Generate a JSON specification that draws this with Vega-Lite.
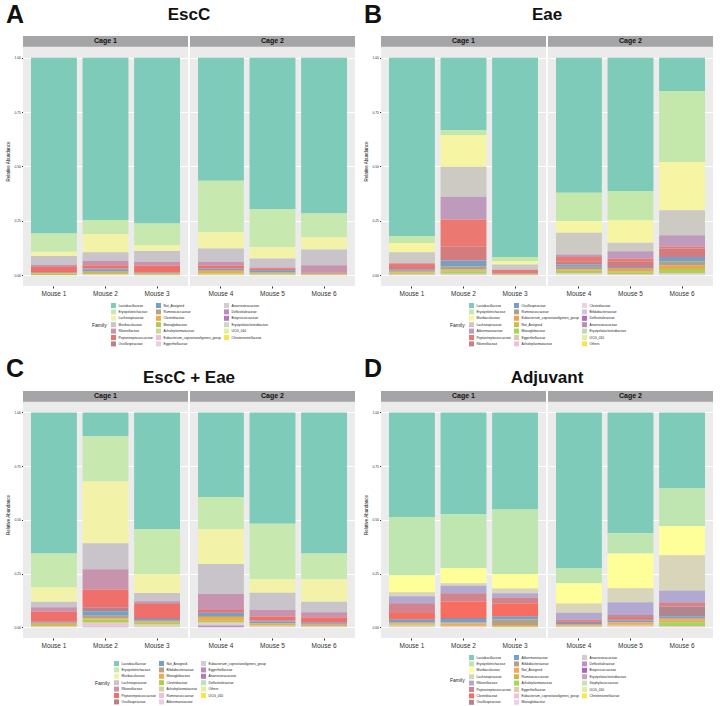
{
"$schema": "https://vega.github.io/schema/vega-lite/v6.json",
"background": "white",
"padding": {"left": 5, "top": 3, "right": 4, "bottom": 0},
"config": {
  "font": "Liberation Sans",
  "view": {"fill": "#EBEBEB", "stroke": null},
  "axis": {"domain": false, "gridColor": "#FFFFFF", "tickColor": "#333333", "labelColor": "#333333", "titleFontWeight": "normal", "titleColor": "#111111"},
  "title": {"font": "Liberation Sans", "color": "#111111"},
  "header": {"titleFont": "Liberation Sans"},
  "legend": {"labelFont": "Liberation Sans", "titleFont": "Liberation Sans", "layout": {"bottom": {"anchor": "middle"}}}
},
"datasets": {
"A": [
{"Mouse":"Mouse 1","Cage":"Cage 1","Family":"Lactobacillaceae","Abundance":0.808},
{"Mouse":"Mouse 1","Cage":"Cage 1","Family":"Erysipelotrichaceae","Abundance":0.085},
{"Mouse":"Mouse 1","Cage":"Cage 1","Family":"Lachnospiraceae","Abundance":0.019},
{"Mouse":"Mouse 1","Cage":"Cage 1","Family":"Muribaculaceae","Abundance":0.040},
{"Mouse":"Mouse 1","Cage":"Cage 1","Family":"Rikenellaceae","Abundance":0.011},
{"Mouse":"Mouse 1","Cage":"Cage 1","Family":"Peptostreptococcaceae","Abundance":0.025},
{"Mouse":"Mouse 1","Cage":"Cage 1","Family":"Oscillospiraceae","Abundance":0.002},
{"Mouse":"Mouse 1","Cage":"Cage 1","Family":"Not_Assigned","Abundance":0.001},
{"Mouse":"Mouse 1","Cage":"Cage 1","Family":"Ruminococcaceae","Abundance":0.001},
{"Mouse":"Mouse 1","Cage":"Cage 1","Family":"Clostridiaceae","Abundance":0.002},
{"Mouse":"Mouse 1","Cage":"Cage 1","Family":"Monoglobaceae","Abundance":0.006},
{"Mouse":"Mouse 2","Cage":"Cage 1","Family":"Lactobacillaceae","Abundance":0.746},
{"Mouse":"Mouse 2","Cage":"Cage 1","Family":"Erysipelotrichaceae","Abundance":0.065},
{"Mouse":"Mouse 2","Cage":"Cage 1","Family":"Lachnospiraceae","Abundance":0.084},
{"Mouse":"Mouse 2","Cage":"Cage 1","Family":"Muribaculaceae","Abundance":0.039},
{"Mouse":"Mouse 2","Cage":"Cage 1","Family":"Rikenellaceae","Abundance":0.020},
{"Mouse":"Mouse 2","Cage":"Cage 1","Family":"Peptostreptococcaceae","Abundance":0.015},
{"Mouse":"Mouse 2","Cage":"Cage 1","Family":"Oscillospiraceae","Abundance":0.004},
{"Mouse":"Mouse 2","Cage":"Cage 1","Family":"Not_Assigned","Abundance":0.010},
{"Mouse":"Mouse 2","Cage":"Cage 1","Family":"Ruminococcaceae","Abundance":0.003},
{"Mouse":"Mouse 2","Cage":"Cage 1","Family":"Clostridiaceae","Abundance":0.004},
{"Mouse":"Mouse 2","Cage":"Cage 1","Family":"Monoglobaceae","Abundance":0.005},
{"Mouse":"Mouse 2","Cage":"Cage 1","Family":"Acholeplasmataceae","Abundance":0.002},
{"Mouse":"Mouse 2","Cage":"Cage 1","Family":"Anaerovoracaceae","Abundance":0.003},
{"Mouse":"Mouse 3","Cage":"Cage 1","Family":"Lactobacillaceae","Abundance":0.763},
{"Mouse":"Mouse 3","Cage":"Cage 1","Family":"Erysipelotrichaceae","Abundance":0.099},
{"Mouse":"Mouse 3","Cage":"Cage 1","Family":"Lachnospiraceae","Abundance":0.027},
{"Mouse":"Mouse 3","Cage":"Cage 1","Family":"Muribaculaceae","Abundance":0.049},
{"Mouse":"Mouse 3","Cage":"Cage 1","Family":"Rikenellaceae","Abundance":0.019},
{"Mouse":"Mouse 3","Cage":"Cage 1","Family":"Peptostreptococcaceae","Abundance":0.031},
{"Mouse":"Mouse 3","Cage":"Cage 1","Family":"Oscillospiraceae","Abundance":0.002},
{"Mouse":"Mouse 3","Cage":"Cage 1","Family":"Not_Assigned","Abundance":0.002},
{"Mouse":"Mouse 3","Cage":"Cage 1","Family":"Ruminococcaceae","Abundance":0.002},
{"Mouse":"Mouse 3","Cage":"Cage 1","Family":"Clostridiaceae","Abundance":0.002},
{"Mouse":"Mouse 3","Cage":"Cage 1","Family":"Monoglobaceae","Abundance":0.004},
{"Mouse":"Mouse 4","Cage":"Cage 2","Family":"Lactobacillaceae","Abundance":0.566},
{"Mouse":"Mouse 4","Cage":"Cage 2","Family":"Erysipelotrichaceae","Abundance":0.237},
{"Mouse":"Mouse 4","Cage":"Cage 2","Family":"Lachnospiraceae","Abundance":0.074},
{"Mouse":"Mouse 4","Cage":"Cage 2","Family":"Muribaculaceae","Abundance":0.061},
{"Mouse":"Mouse 4","Cage":"Cage 2","Family":"Rikenellaceae","Abundance":0.019},
{"Mouse":"Mouse 4","Cage":"Cage 2","Family":"Peptostreptococcaceae","Abundance":0.012},
{"Mouse":"Mouse 4","Cage":"Cage 2","Family":"Oscillospiraceae","Abundance":0.002},
{"Mouse":"Mouse 4","Cage":"Cage 2","Family":"Not_Assigned","Abundance":0.006},
{"Mouse":"Mouse 4","Cage":"Cage 2","Family":"Ruminococcaceae","Abundance":0.004},
{"Mouse":"Mouse 4","Cage":"Cage 2","Family":"Clostridiaceae","Abundance":0.012},
{"Mouse":"Mouse 4","Cage":"Cage 2","Family":"Monoglobaceae","Abundance":0.004},
{"Mouse":"Mouse 4","Cage":"Cage 2","Family":"Acholeplasmataceae","Abundance":0.003},
{"Mouse":"Mouse 5","Cage":"Cage 2","Family":"Lactobacillaceae","Abundance":0.697},
{"Mouse":"Mouse 5","Cage":"Cage 2","Family":"Erysipelotrichaceae","Abundance":0.175},
{"Mouse":"Mouse 5","Cage":"Cage 2","Family":"Lachnospiraceae","Abundance":0.051},
{"Mouse":"Mouse 5","Cage":"Cage 2","Family":"Muribaculaceae","Abundance":0.042},
{"Mouse":"Mouse 5","Cage":"Cage 2","Family":"Rikenellaceae","Abundance":0.003},
{"Mouse":"Mouse 5","Cage":"Cage 2","Family":"Peptostreptococcaceae","Abundance":0.009},
{"Mouse":"Mouse 5","Cage":"Cage 2","Family":"Not_Assigned","Abundance":0.011},
{"Mouse":"Mouse 5","Cage":"Cage 2","Family":"Ruminococcaceae","Abundance":0.003},
{"Mouse":"Mouse 5","Cage":"Cage 2","Family":"Clostridiaceae","Abundance":0.004},
{"Mouse":"Mouse 5","Cage":"Cage 2","Family":"Monoglobaceae","Abundance":0.003},
{"Mouse":"Mouse 5","Cage":"Cage 2","Family":"Acholeplasmataceae","Abundance":0.002},
{"Mouse":"Mouse 6","Cage":"Cage 2","Family":"Lactobacillaceae","Abundance":0.717},
{"Mouse":"Mouse 6","Cage":"Cage 2","Family":"Erysipelotrichaceae","Abundance":0.109},
{"Mouse":"Mouse 6","Cage":"Cage 2","Family":"Lachnospiraceae","Abundance":0.056},
{"Mouse":"Mouse 6","Cage":"Cage 2","Family":"Muribaculaceae","Abundance":0.072},
{"Mouse":"Mouse 6","Cage":"Cage 2","Family":"Rikenellaceae","Abundance":0.034},
{"Mouse":"Mouse 6","Cage":"Cage 2","Family":"Peptostreptococcaceae","Abundance":0.002},
{"Mouse":"Mouse 6","Cage":"Cage 2","Family":"Oscillospiraceae","Abundance":0.002},
{"Mouse":"Mouse 6","Cage":"Cage 2","Family":"Not_Assigned","Abundance":0.002},
{"Mouse":"Mouse 6","Cage":"Cage 2","Family":"Ruminococcaceae","Abundance":0.002},
{"Mouse":"Mouse 6","Cage":"Cage 2","Family":"Clostridiaceae","Abundance":0.002},
{"Mouse":"Mouse 6","Cage":"Cage 2","Family":"Monoglobaceae","Abundance":0.002}
],
"B": [
{"Mouse":"Mouse 1","Cage":"Cage 1","Family":"Lactobacillaceae","Abundance":0.821},
{"Mouse":"Mouse 1","Cage":"Cage 1","Family":"Erysipelotrichaceae","Abundance":0.031},
{"Mouse":"Mouse 1","Cage":"Cage 1","Family":"Muribaculaceae","Abundance":0.043},
{"Mouse":"Mouse 1","Cage":"Cage 1","Family":"Lachnospiraceae","Abundance":0.049},
{"Mouse":"Mouse 1","Cage":"Cage 1","Family":"Akkermansiaceae","Abundance":0.004},
{"Mouse":"Mouse 1","Cage":"Cage 1","Family":"Peptostreptococcaceae","Abundance":0.015},
{"Mouse":"Mouse 1","Cage":"Cage 1","Family":"Rikenellaceae","Abundance":0.012},
{"Mouse":"Mouse 1","Cage":"Cage 1","Family":"Oscillospiraceae","Abundance":0.005},
{"Mouse":"Mouse 1","Cage":"Cage 1","Family":"Ruminococcaceae","Abundance":0.004},
{"Mouse":"Mouse 1","Cage":"Cage 1","Family":"Eubacterium_coprostanoligenes_group","Abundance":0.004},
{"Mouse":"Mouse 1","Cage":"Cage 1","Family":"Not_Assigned","Abundance":0.006},
{"Mouse":"Mouse 1","Cage":"Cage 1","Family":"Monoglobaceae","Abundance":0.003},
{"Mouse":"Mouse 1","Cage":"Cage 1","Family":"Eggerthellaceae","Abundance":0.002},
{"Mouse":"Mouse 1","Cage":"Cage 1","Family":"Acholeplasmataceae","Abundance":0.001},
{"Mouse":"Mouse 2","Cage":"Cage 1","Family":"Lactobacillaceae","Abundance":0.333},
{"Mouse":"Mouse 2","Cage":"Cage 1","Family":"Erysipelotrichaceae","Abundance":0.024},
{"Mouse":"Mouse 2","Cage":"Cage 1","Family":"Muribaculaceae","Abundance":0.145},
{"Mouse":"Mouse 2","Cage":"Cage 1","Family":"Lachnospiraceae","Abundance":0.138},
{"Mouse":"Mouse 2","Cage":"Cage 1","Family":"Akkermansiaceae","Abundance":0.104},
{"Mouse":"Mouse 2","Cage":"Cage 1","Family":"Peptostreptococcaceae","Abundance":0.126},
{"Mouse":"Mouse 2","Cage":"Cage 1","Family":"Rikenellaceae","Abundance":0.063},
{"Mouse":"Mouse 2","Cage":"Cage 1","Family":"Oscillospiraceae","Abundance":0.026},
{"Mouse":"Mouse 2","Cage":"Cage 1","Family":"Ruminococcaceae","Abundance":0.015},
{"Mouse":"Mouse 2","Cage":"Cage 1","Family":"Eubacterium_coprostanoligenes_group","Abundance":0.003},
{"Mouse":"Mouse 2","Cage":"Cage 1","Family":"Not_Assigned","Abundance":0.008},
{"Mouse":"Mouse 2","Cage":"Cage 1","Family":"Monoglobaceae","Abundance":0.009},
{"Mouse":"Mouse 2","Cage":"Cage 1","Family":"Eggerthellaceae","Abundance":0.002},
{"Mouse":"Mouse 2","Cage":"Cage 1","Family":"Acholeplasmataceae","Abundance":0.004},
{"Mouse":"Mouse 3","Cage":"Cage 1","Family":"Lactobacillaceae","Abundance":0.917},
{"Mouse":"Mouse 3","Cage":"Cage 1","Family":"Erysipelotrichaceae","Abundance":0.019},
{"Mouse":"Mouse 3","Cage":"Cage 1","Family":"Muribaculaceae","Abundance":0.015},
{"Mouse":"Mouse 3","Cage":"Cage 1","Family":"Lachnospiraceae","Abundance":0.023},
{"Mouse":"Mouse 3","Cage":"Cage 1","Family":"Akkermansiaceae","Abundance":0.002},
{"Mouse":"Mouse 3","Cage":"Cage 1","Family":"Peptostreptococcaceae","Abundance":0.015},
{"Mouse":"Mouse 3","Cage":"Cage 1","Family":"Rikenellaceae","Abundance":0.003},
{"Mouse":"Mouse 3","Cage":"Cage 1","Family":"Oscillospiraceae","Abundance":0.002},
{"Mouse":"Mouse 3","Cage":"Cage 1","Family":"Ruminococcaceae","Abundance":0.001},
{"Mouse":"Mouse 3","Cage":"Cage 1","Family":"Eubacterium_coprostanoligenes_group","Abundance":0.001},
{"Mouse":"Mouse 3","Cage":"Cage 1","Family":"Not_Assigned","Abundance":0.001},
{"Mouse":"Mouse 3","Cage":"Cage 1","Family":"Monoglobaceae","Abundance":0.001},
{"Mouse":"Mouse 4","Cage":"Cage 2","Family":"Lactobacillaceae","Abundance":0.621},
{"Mouse":"Mouse 4","Cage":"Cage 2","Family":"Erysipelotrichaceae","Abundance":0.131},
{"Mouse":"Mouse 4","Cage":"Cage 2","Family":"Muribaculaceae","Abundance":0.053},
{"Mouse":"Mouse 4","Cage":"Cage 2","Family":"Lachnospiraceae","Abundance":0.100},
{"Mouse":"Mouse 4","Cage":"Cage 2","Family":"Akkermansiaceae","Abundance":0.012},
{"Mouse":"Mouse 4","Cage":"Cage 2","Family":"Peptostreptococcaceae","Abundance":0.019},
{"Mouse":"Mouse 4","Cage":"Cage 2","Family":"Rikenellaceae","Abundance":0.015},
{"Mouse":"Mouse 4","Cage":"Cage 2","Family":"Oscillospiraceae","Abundance":0.011},
{"Mouse":"Mouse 4","Cage":"Cage 2","Family":"Ruminococcaceae","Abundance":0.012},
{"Mouse":"Mouse 4","Cage":"Cage 2","Family":"Eubacterium_coprostanoligenes_group","Abundance":0.004},
{"Mouse":"Mouse 4","Cage":"Cage 2","Family":"Not_Assigned","Abundance":0.008},
{"Mouse":"Mouse 4","Cage":"Cage 2","Family":"Monoglobaceae","Abundance":0.005},
{"Mouse":"Mouse 4","Cage":"Cage 2","Family":"Eggerthellaceae","Abundance":0.003},
{"Mouse":"Mouse 4","Cage":"Cage 2","Family":"Acholeplasmataceae","Abundance":0.002},
{"Mouse":"Mouse 4","Cage":"Cage 2","Family":"Clostridiaceae","Abundance":0.004},
{"Mouse":"Mouse 5","Cage":"Cage 2","Family":"Lactobacillaceae","Abundance":0.613},
{"Mouse":"Mouse 5","Cage":"Cage 2","Family":"Erysipelotrichaceae","Abundance":0.135},
{"Mouse":"Mouse 5","Cage":"Cage 2","Family":"Muribaculaceae","Abundance":0.103},
{"Mouse":"Mouse 5","Cage":"Cage 2","Family":"Lachnospiraceae","Abundance":0.039},
{"Mouse":"Mouse 5","Cage":"Cage 2","Family":"Akkermansiaceae","Abundance":0.035},
{"Mouse":"Mouse 5","Cage":"Cage 2","Family":"Peptostreptococcaceae","Abundance":0.011},
{"Mouse":"Mouse 5","Cage":"Cage 2","Family":"Rikenellaceae","Abundance":0.027},
{"Mouse":"Mouse 5","Cage":"Cage 2","Family":"Oscillospiraceae","Abundance":0.005},
{"Mouse":"Mouse 5","Cage":"Cage 2","Family":"Ruminococcaceae","Abundance":0.004},
{"Mouse":"Mouse 5","Cage":"Cage 2","Family":"Eubacterium_coprostanoligenes_group","Abundance":0.010},
{"Mouse":"Mouse 5","Cage":"Cage 2","Family":"Not_Assigned","Abundance":0.007},
{"Mouse":"Mouse 5","Cage":"Cage 2","Family":"Monoglobaceae","Abundance":0.006},
{"Mouse":"Mouse 5","Cage":"Cage 2","Family":"Eggerthellaceae","Abundance":0.003},
{"Mouse":"Mouse 5","Cage":"Cage 2","Family":"Acholeplasmataceae","Abundance":0.002},
{"Mouse":"Mouse 6","Cage":"Cage 2","Family":"Lactobacillaceae","Abundance":0.153},
{"Mouse":"Mouse 6","Cage":"Cage 2","Family":"Erysipelotrichaceae","Abundance":0.327},
{"Mouse":"Mouse 6","Cage":"Cage 2","Family":"Muribaculaceae","Abundance":0.222},
{"Mouse":"Mouse 6","Cage":"Cage 2","Family":"Lachnospiraceae","Abundance":0.115},
{"Mouse":"Mouse 6","Cage":"Cage 2","Family":"Akkermansiaceae","Abundance":0.053},
{"Mouse":"Mouse 6","Cage":"Cage 2","Family":"Peptostreptococcaceae","Abundance":0.008},
{"Mouse":"Mouse 6","Cage":"Cage 2","Family":"Rikenellaceae","Abundance":0.039},
{"Mouse":"Mouse 6","Cage":"Cage 2","Family":"Oscillospiraceae","Abundance":0.019},
{"Mouse":"Mouse 6","Cage":"Cage 2","Family":"Ruminococcaceae","Abundance":0.020},
{"Mouse":"Mouse 6","Cage":"Cage 2","Family":"Eubacterium_coprostanoligenes_group","Abundance":0.011},
{"Mouse":"Mouse 6","Cage":"Cage 2","Family":"Not_Assigned","Abundance":0.009},
{"Mouse":"Mouse 6","Cage":"Cage 2","Family":"Monoglobaceae","Abundance":0.014},
{"Mouse":"Mouse 6","Cage":"Cage 2","Family":"Eggerthellaceae","Abundance":0.004},
{"Mouse":"Mouse 6","Cage":"Cage 2","Family":"Acholeplasmataceae","Abundance":0.004},
{"Mouse":"Mouse 6","Cage":"Cage 2","Family":"Clostridiaceae","Abundance":0.002}
],
"C": [
{"Mouse":"Mouse 1","Cage":"Cage 1","Family":"Lactobacillaceae","Abundance":0.657},
{"Mouse":"Mouse 1","Cage":"Cage 1","Family":"Erysipelotrichaceae","Abundance":0.158},
{"Mouse":"Mouse 1","Cage":"Cage 1","Family":"Muribaculaceae","Abundance":0.066},
{"Mouse":"Mouse 1","Cage":"Cage 1","Family":"Lachnospiraceae","Abundance":0.026},
{"Mouse":"Mouse 1","Cage":"Cage 1","Family":"Rikenellaceae","Abundance":0.020},
{"Mouse":"Mouse 1","Cage":"Cage 1","Family":"Peptostreptococcaceae","Abundance":0.047},
{"Mouse":"Mouse 1","Cage":"Cage 1","Family":"Oscillospiraceae","Abundance":0.004},
{"Mouse":"Mouse 1","Cage":"Cage 1","Family":"Not_Assigned","Abundance":0.002},
{"Mouse":"Mouse 1","Cage":"Cage 1","Family":"Bifidobacteriaceae","Abundance":0.004},
{"Mouse":"Mouse 1","Cage":"Cage 1","Family":"Monoglobaceae","Abundance":0.006},
{"Mouse":"Mouse 1","Cage":"Cage 1","Family":"Clostridiaceae","Abundance":0.004},
{"Mouse":"Mouse 1","Cage":"Cage 1","Family":"Acholeplasmataceae","Abundance":0.004},
{"Mouse":"Mouse 1","Cage":"Cage 1","Family":"Ruminococcaceae","Abundance":0.002},
{"Mouse":"Mouse 2","Cage":"Cage 1","Family":"Lactobacillaceae","Abundance":0.111},
{"Mouse":"Mouse 2","Cage":"Cage 1","Family":"Erysipelotrichaceae","Abundance":0.210},
{"Mouse":"Mouse 2","Cage":"Cage 1","Family":"Muribaculaceae","Abundance":0.288},
{"Mouse":"Mouse 2","Cage":"Cage 1","Family":"Lachnospiraceae","Abundance":0.121},
{"Mouse":"Mouse 2","Cage":"Cage 1","Family":"Rikenellaceae","Abundance":0.094},
{"Mouse":"Mouse 2","Cage":"Cage 1","Family":"Peptostreptococcaceae","Abundance":0.083},
{"Mouse":"Mouse 2","Cage":"Cage 1","Family":"Oscillospiraceae","Abundance":0.019},
{"Mouse":"Mouse 2","Cage":"Cage 1","Family":"Not_Assigned","Abundance":0.020},
{"Mouse":"Mouse 2","Cage":"Cage 1","Family":"Bifidobacteriaceae","Abundance":0.012},
{"Mouse":"Mouse 2","Cage":"Cage 1","Family":"Monoglobaceae","Abundance":0.006},
{"Mouse":"Mouse 2","Cage":"Cage 1","Family":"Clostridiaceae","Abundance":0.012},
{"Mouse":"Mouse 2","Cage":"Cage 1","Family":"Acholeplasmataceae","Abundance":0.005},
{"Mouse":"Mouse 2","Cage":"Cage 1","Family":"Ruminococcaceae","Abundance":0.010},
{"Mouse":"Mouse 2","Cage":"Cage 1","Family":"Akkermansiaceae","Abundance":0.004},
{"Mouse":"Mouse 2","Cage":"Cage 1","Family":"Eubacterium_coprostanoligenes_group","Abundance":0.003},
{"Mouse":"Mouse 2","Cage":"Cage 1","Family":"Eggerthellaceae","Abundance":0.002},
{"Mouse":"Mouse 3","Cage":"Cage 1","Family":"Lactobacillaceae","Abundance":0.544},
{"Mouse":"Mouse 3","Cage":"Cage 1","Family":"Erysipelotrichaceae","Abundance":0.209},
{"Mouse":"Mouse 3","Cage":"Cage 1","Family":"Muribaculaceae","Abundance":0.088},
{"Mouse":"Mouse 3","Cage":"Cage 1","Family":"Lachnospiraceae","Abundance":0.038},
{"Mouse":"Mouse 3","Cage":"Cage 1","Family":"Rikenellaceae","Abundance":0.013},
{"Mouse":"Mouse 3","Cage":"Cage 1","Family":"Peptostreptococcaceae","Abundance":0.065},
{"Mouse":"Mouse 3","Cage":"Cage 1","Family":"Oscillospiraceae","Abundance":0.005},
{"Mouse":"Mouse 3","Cage":"Cage 1","Family":"Not_Assigned","Abundance":0.008},
{"Mouse":"Mouse 3","Cage":"Cage 1","Family":"Bifidobacteriaceae","Abundance":0.004},
{"Mouse":"Mouse 3","Cage":"Cage 1","Family":"Monoglobaceae","Abundance":0.005},
{"Mouse":"Mouse 3","Cage":"Cage 1","Family":"Clostridiaceae","Abundance":0.008},
{"Mouse":"Mouse 3","Cage":"Cage 1","Family":"Acholeplasmataceae","Abundance":0.006},
{"Mouse":"Mouse 3","Cage":"Cage 1","Family":"Ruminococcaceae","Abundance":0.003},
{"Mouse":"Mouse 3","Cage":"Cage 1","Family":"Eubacterium_coprostanoligenes_group","Abundance":0.004},
{"Mouse":"Mouse 4","Cage":"Cage 2","Family":"Lactobacillaceae","Abundance":0.394},
{"Mouse":"Mouse 4","Cage":"Cage 2","Family":"Erysipelotrichaceae","Abundance":0.150},
{"Mouse":"Mouse 4","Cage":"Cage 2","Family":"Muribaculaceae","Abundance":0.162},
{"Mouse":"Mouse 4","Cage":"Cage 2","Family":"Lachnospiraceae","Abundance":0.139},
{"Mouse":"Mouse 4","Cage":"Cage 2","Family":"Rikenellaceae","Abundance":0.075},
{"Mouse":"Mouse 4","Cage":"Cage 2","Family":"Peptostreptococcaceae","Abundance":0.010},
{"Mouse":"Mouse 4","Cage":"Cage 2","Family":"Oscillospiraceae","Abundance":0.004},
{"Mouse":"Mouse 4","Cage":"Cage 2","Family":"Not_Assigned","Abundance":0.014},
{"Mouse":"Mouse 4","Cage":"Cage 2","Family":"Bifidobacteriaceae","Abundance":0.004},
{"Mouse":"Mouse 4","Cage":"Cage 2","Family":"Monoglobaceae","Abundance":0.018},
{"Mouse":"Mouse 4","Cage":"Cage 2","Family":"Clostridiaceae","Abundance":0.006},
{"Mouse":"Mouse 4","Cage":"Cage 2","Family":"Acholeplasmataceae","Abundance":0.006},
{"Mouse":"Mouse 4","Cage":"Cage 2","Family":"Ruminococcaceae","Abundance":0.004},
{"Mouse":"Mouse 4","Cage":"Cage 2","Family":"Eubacterium_coprostanoligenes_group","Abundance":0.006},
{"Mouse":"Mouse 4","Cage":"Cage 2","Family":"Eggerthellaceae","Abundance":0.003},
{"Mouse":"Mouse 4","Cage":"Cage 2","Family":"Anaerovoracaceae","Abundance":0.005},
{"Mouse":"Mouse 5","Cage":"Cage 2","Family":"Lactobacillaceae","Abundance":0.518},
{"Mouse":"Mouse 5","Cage":"Cage 2","Family":"Erysipelotrichaceae","Abundance":0.258},
{"Mouse":"Mouse 5","Cage":"Cage 2","Family":"Muribaculaceae","Abundance":0.063},
{"Mouse":"Mouse 5","Cage":"Cage 2","Family":"Lachnospiraceae","Abundance":0.081},
{"Mouse":"Mouse 5","Cage":"Cage 2","Family":"Rikenellaceae","Abundance":0.031},
{"Mouse":"Mouse 5","Cage":"Cage 2","Family":"Peptostreptococcaceae","Abundance":0.018},
{"Mouse":"Mouse 5","Cage":"Cage 2","Family":"Oscillospiraceae","Abundance":0.004},
{"Mouse":"Mouse 5","Cage":"Cage 2","Family":"Not_Assigned","Abundance":0.008},
{"Mouse":"Mouse 5","Cage":"Cage 2","Family":"Bifidobacteriaceae","Abundance":0.003},
{"Mouse":"Mouse 5","Cage":"Cage 2","Family":"Monoglobaceae","Abundance":0.006},
{"Mouse":"Mouse 5","Cage":"Cage 2","Family":"Clostridiaceae","Abundance":0.003},
{"Mouse":"Mouse 5","Cage":"Cage 2","Family":"Acholeplasmataceae","Abundance":0.003},
{"Mouse":"Mouse 5","Cage":"Cage 2","Family":"Ruminococcaceae","Abundance":0.004},
{"Mouse":"Mouse 6","Cage":"Cage 2","Family":"Lactobacillaceae","Abundance":0.657},
{"Mouse":"Mouse 6","Cage":"Cage 2","Family":"Erysipelotrichaceae","Abundance":0.119},
{"Mouse":"Mouse 6","Cage":"Cage 2","Family":"Muribaculaceae","Abundance":0.105},
{"Mouse":"Mouse 6","Cage":"Cage 2","Family":"Lachnospiraceae","Abundance":0.049},
{"Mouse":"Mouse 6","Cage":"Cage 2","Family":"Rikenellaceae","Abundance":0.024},
{"Mouse":"Mouse 6","Cage":"Cage 2","Family":"Peptostreptococcaceae","Abundance":0.023},
{"Mouse":"Mouse 6","Cage":"Cage 2","Family":"Oscillospiraceae","Abundance":0.004},
{"Mouse":"Mouse 6","Cage":"Cage 2","Family":"Not_Assigned","Abundance":0.006},
{"Mouse":"Mouse 6","Cage":"Cage 2","Family":"Bifidobacteriaceae","Abundance":0.003},
{"Mouse":"Mouse 6","Cage":"Cage 2","Family":"Monoglobaceae","Abundance":0.004},
{"Mouse":"Mouse 6","Cage":"Cage 2","Family":"Clostridiaceae","Abundance":0.002},
{"Mouse":"Mouse 6","Cage":"Cage 2","Family":"Acholeplasmataceae","Abundance":0.002},
{"Mouse":"Mouse 6","Cage":"Cage 2","Family":"Ruminococcaceae","Abundance":0.002}
],
"D": [
{"Mouse":"Mouse 1","Cage":"Cage 1","Family":"Lactobacillaceae","Abundance":0.487},
{"Mouse":"Mouse 1","Cage":"Cage 1","Family":"Erysipelotrichaceae","Abundance":0.271},
{"Mouse":"Mouse 1","Cage":"Cage 1","Family":"Muribaculaceae","Abundance":0.079},
{"Mouse":"Mouse 1","Cage":"Cage 1","Family":"Lachnospiraceae","Abundance":0.019},
{"Mouse":"Mouse 1","Cage":"Cage 1","Family":"Rikenellaceae","Abundance":0.032},
{"Mouse":"Mouse 1","Cage":"Cage 1","Family":"Peptostreptococcaceae","Abundance":0.046},
{"Mouse":"Mouse 1","Cage":"Cage 1","Family":"Clostridiaceae","Abundance":0.027},
{"Mouse":"Mouse 1","Cage":"Cage 1","Family":"Oscillospiraceae","Abundance":0.004},
{"Mouse":"Mouse 1","Cage":"Cage 1","Family":"Akkermansiaceae","Abundance":0.012},
{"Mouse":"Mouse 1","Cage":"Cage 1","Family":"Bifidobacteriaceae","Abundance":0.004},
{"Mouse":"Mouse 1","Cage":"Cage 1","Family":"Not_Assigned","Abundance":0.006},
{"Mouse":"Mouse 1","Cage":"Cage 1","Family":"Ruminococcaceae","Abundance":0.004},
{"Mouse":"Mouse 1","Cage":"Cage 1","Family":"Acholeplasmataceae","Abundance":0.002},
{"Mouse":"Mouse 1","Cage":"Cage 1","Family":"Eggerthellaceae","Abundance":0.003},
{"Mouse":"Mouse 1","Cage":"Cage 1","Family":"Eubacterium_coprostanoligenes_group","Abundance":0.002},
{"Mouse":"Mouse 1","Cage":"Cage 1","Family":"Anaerovoracaceae","Abundance":0.002},
{"Mouse":"Mouse 2","Cage":"Cage 1","Family":"Lactobacillaceae","Abundance":0.474},
{"Mouse":"Mouse 2","Cage":"Cage 1","Family":"Erysipelotrichaceae","Abundance":0.250},
{"Mouse":"Mouse 2","Cage":"Cage 1","Family":"Muribaculaceae","Abundance":0.071},
{"Mouse":"Mouse 2","Cage":"Cage 1","Family":"Lachnospiraceae","Abundance":0.012},
{"Mouse":"Mouse 2","Cage":"Cage 1","Family":"Rikenellaceae","Abundance":0.035},
{"Mouse":"Mouse 2","Cage":"Cage 1","Family":"Peptostreptococcaceae","Abundance":0.038},
{"Mouse":"Mouse 2","Cage":"Cage 1","Family":"Clostridiaceae","Abundance":0.077},
{"Mouse":"Mouse 2","Cage":"Cage 1","Family":"Oscillospiraceae","Abundance":0.004},
{"Mouse":"Mouse 2","Cage":"Cage 1","Family":"Akkermansiaceae","Abundance":0.017},
{"Mouse":"Mouse 2","Cage":"Cage 1","Family":"Bifidobacteriaceae","Abundance":0.004},
{"Mouse":"Mouse 2","Cage":"Cage 1","Family":"Not_Assigned","Abundance":0.008},
{"Mouse":"Mouse 2","Cage":"Cage 1","Family":"Ruminococcaceae","Abundance":0.003},
{"Mouse":"Mouse 2","Cage":"Cage 1","Family":"Acholeplasmataceae","Abundance":0.002},
{"Mouse":"Mouse 2","Cage":"Cage 1","Family":"Eggerthellaceae","Abundance":0.002},
{"Mouse":"Mouse 2","Cage":"Cage 1","Family":"Eubacterium_coprostanoligenes_group","Abundance":0.003},
{"Mouse":"Mouse 3","Cage":"Cage 1","Family":"Lactobacillaceae","Abundance":0.452},
{"Mouse":"Mouse 3","Cage":"Cage 1","Family":"Erysipelotrichaceae","Abundance":0.300},
{"Mouse":"Mouse 3","Cage":"Cage 1","Family":"Muribaculaceae","Abundance":0.068},
{"Mouse":"Mouse 3","Cage":"Cage 1","Family":"Lachnospiraceae","Abundance":0.022},
{"Mouse":"Mouse 3","Cage":"Cage 1","Family":"Rikenellaceae","Abundance":0.019},
{"Mouse":"Mouse 3","Cage":"Cage 1","Family":"Peptostreptococcaceae","Abundance":0.028},
{"Mouse":"Mouse 3","Cage":"Cage 1","Family":"Clostridiaceae","Abundance":0.059},
{"Mouse":"Mouse 3","Cage":"Cage 1","Family":"Oscillospiraceae","Abundance":0.003},
{"Mouse":"Mouse 3","Cage":"Cage 1","Family":"Akkermansiaceae","Abundance":0.013},
{"Mouse":"Mouse 3","Cage":"Cage 1","Family":"Bifidobacteriaceae","Abundance":0.025},
{"Mouse":"Mouse 3","Cage":"Cage 1","Family":"Not_Assigned","Abundance":0.005},
{"Mouse":"Mouse 3","Cage":"Cage 1","Family":"Ruminococcaceae","Abundance":0.004},
{"Mouse":"Mouse 3","Cage":"Cage 1","Family":"Acholeplasmataceae","Abundance":0.002},
{"Mouse":"Mouse 4","Cage":"Cage 2","Family":"Lactobacillaceae","Abundance":0.724},
{"Mouse":"Mouse 4","Cage":"Cage 2","Family":"Erysipelotrichaceae","Abundance":0.071},
{"Mouse":"Mouse 4","Cage":"Cage 2","Family":"Muribaculaceae","Abundance":0.094},
{"Mouse":"Mouse 4","Cage":"Cage 2","Family":"Lachnospiraceae","Abundance":0.043},
{"Mouse":"Mouse 4","Cage":"Cage 2","Family":"Rikenellaceae","Abundance":0.032},
{"Mouse":"Mouse 4","Cage":"Cage 2","Family":"Peptostreptococcaceae","Abundance":0.008},
{"Mouse":"Mouse 4","Cage":"Cage 2","Family":"Clostridiaceae","Abundance":0.004},
{"Mouse":"Mouse 4","Cage":"Cage 2","Family":"Oscillospiraceae","Abundance":0.004},
{"Mouse":"Mouse 4","Cage":"Cage 2","Family":"Akkermansiaceae","Abundance":0.006},
{"Mouse":"Mouse 4","Cage":"Cage 2","Family":"Bifidobacteriaceae","Abundance":0.003},
{"Mouse":"Mouse 4","Cage":"Cage 2","Family":"Not_Assigned","Abundance":0.004},
{"Mouse":"Mouse 4","Cage":"Cage 2","Family":"Ruminococcaceae","Abundance":0.003},
{"Mouse":"Mouse 4","Cage":"Cage 2","Family":"Acholeplasmataceae","Abundance":0.002},
{"Mouse":"Mouse 4","Cage":"Cage 2","Family":"Eggerthellaceae","Abundance":0.002},
{"Mouse":"Mouse 5","Cage":"Cage 2","Family":"Lactobacillaceae","Abundance":0.562},
{"Mouse":"Mouse 5","Cage":"Cage 2","Family":"Erysipelotrichaceae","Abundance":0.095},
{"Mouse":"Mouse 5","Cage":"Cage 2","Family":"Muribaculaceae","Abundance":0.161},
{"Mouse":"Mouse 5","Cage":"Cage 2","Family":"Lachnospiraceae","Abundance":0.065},
{"Mouse":"Mouse 5","Cage":"Cage 2","Family":"Rikenellaceae","Abundance":0.060},
{"Mouse":"Mouse 5","Cage":"Cage 2","Family":"Peptostreptococcaceae","Abundance":0.014},
{"Mouse":"Mouse 5","Cage":"Cage 2","Family":"Clostridiaceae","Abundance":0.006},
{"Mouse":"Mouse 5","Cage":"Cage 2","Family":"Oscillospiraceae","Abundance":0.005},
{"Mouse":"Mouse 5","Cage":"Cage 2","Family":"Akkermansiaceae","Abundance":0.008},
{"Mouse":"Mouse 5","Cage":"Cage 2","Family":"Bifidobacteriaceae","Abundance":0.002},
{"Mouse":"Mouse 5","Cage":"Cage 2","Family":"Not_Assigned","Abundance":0.010},
{"Mouse":"Mouse 5","Cage":"Cage 2","Family":"Ruminococcaceae","Abundance":0.003},
{"Mouse":"Mouse 5","Cage":"Cage 2","Family":"Acholeplasmataceae","Abundance":0.002},
{"Mouse":"Mouse 5","Cage":"Cage 2","Family":"Eggerthellaceae","Abundance":0.002},
{"Mouse":"Mouse 5","Cage":"Cage 2","Family":"Eubacterium_coprostanoligenes_group","Abundance":0.003},
{"Mouse":"Mouse 5","Cage":"Cage 2","Family":"Monoglobaceae","Abundance":0.002},
{"Mouse":"Mouse 6","Cage":"Cage 2","Family":"Lactobacillaceae","Abundance":0.352},
{"Mouse":"Mouse 6","Cage":"Cage 2","Family":"Erysipelotrichaceae","Abundance":0.177},
{"Mouse":"Mouse 6","Cage":"Cage 2","Family":"Muribaculaceae","Abundance":0.136},
{"Mouse":"Mouse 6","Cage":"Cage 2","Family":"Lachnospiraceae","Abundance":0.164},
{"Mouse":"Mouse 6","Cage":"Cage 2","Family":"Rikenellaceae","Abundance":0.054},
{"Mouse":"Mouse 6","Cage":"Cage 2","Family":"Peptostreptococcaceae","Abundance":0.021},
{"Mouse":"Mouse 6","Cage":"Cage 2","Family":"Clostridiaceae","Abundance":0.002},
{"Mouse":"Mouse 6","Cage":"Cage 2","Family":"Oscillospiraceae","Abundance":0.043},
{"Mouse":"Mouse 6","Cage":"Cage 2","Family":"Akkermansiaceae","Abundance":0.008},
{"Mouse":"Mouse 6","Cage":"Cage 2","Family":"Bifidobacteriaceae","Abundance":0.003},
{"Mouse":"Mouse 6","Cage":"Cage 2","Family":"Not_Assigned","Abundance":0.010},
{"Mouse":"Mouse 6","Cage":"Cage 2","Family":"Ruminococcaceae","Abundance":0.008},
{"Mouse":"Mouse 6","Cage":"Cage 2","Family":"Acholeplasmataceae","Abundance":0.016},
{"Mouse":"Mouse 6","Cage":"Cage 2","Family":"Eggerthellaceae","Abundance":0.003},
{"Mouse":"Mouse 6","Cage":"Cage 2","Family":"Eubacterium_coprostanoligenes_group","Abundance":0.003}
]
},
"vconcat": [
{"hconcat": [
{
 "data": {"name": "A"},
 "title": {"text": "A", "anchor": "start", "fontSize": 25, "fontWeight": "bold", "offset": -22},
 "facet": {"column": {"field": "Cage", "type": "nominal", "title": "EscC", "header": {"labels": false, "labelPadding": 0, "titleFontSize": 17, "titleFontWeight": "bold", "titleColor": "#111111", "titlePadding": 2}}},
 "spacing": 2,
 "spec": {
  "width": 165, "height": 250,
  "layer": [
   {"transform": [{"calculate": "indexof(['Lactobacillaceae','Erysipelotrichaceae','Lachnospiraceae','Muribaculaceae','Rikenellaceae','Peptostreptococcaceae','Oscillospiraceae','Not_Assigned','Ruminococcaceae','Clostridiaceae','Monoglobaceae','Acholeplasmataceae','Eubacterium_coprostanoligenes_group','Eggerthellaceae','Anaerovoracaceae','Defluviitaleaceae','Butyricicoccaceae','Erysipelatoclostridiaceae','UCG_010','Christensenellaceae'], datum.Family)", "as": "FamilyRank"}],
    "mark": {"type": "bar"},
    "encoding": {
     "x": {"field": "Mouse", "type": "nominal", "scale": {"paddingInner": 0.11, "paddingOuter": 0.155}, "axis": {"title": null, "labelAngle": 0, "labelFontSize": 6.5, "labelPadding": 2, "tickSize": 2, "gridWidth": 1, "bandPosition": 0.5}},
     "y": {"field": "Abundance", "type": "quantitative", "stack": "zero", "scale": {"domain": [-0.05, 1.1], "nice": false, "zero": false}, "axis": {"title": "Relative Abundance", "titleFontSize": 4.5, "titlePadding": 3, "labelFontSize": 3.4, "labelPadding": 1, "values": [0, 0.125, 0.25, 0.375, 0.5, 0.625, 0.75, 0.875, 1], "labelExpr": "datum.value % 0.25 == 0 ? format(datum.value, '.2f') : ''", "gridWidth": {"condition": {"test": "datum.value % 0.25 == 0", "value": 1}, "value": 0.5}, "tickSize": {"condition": {"test": "datum.value % 0.25 == 0", "value": 1.5}, "value": 0}}},
     "order": {"field": "FamilyRank", "type": "quantitative", "sort": "descending"},
     "color": {"field": "Family", "type": "nominal",
      "scale": {"domain": ["Lactobacillaceae","Erysipelotrichaceae","Lachnospiraceae","Muribaculaceae","Rikenellaceae","Peptostreptococcaceae","Oscillospiraceae","Not_Assigned","Ruminococcaceae","Clostridiaceae","Monoglobaceae","Acholeplasmataceae","Eubacterium_coprostanoligenes_group","Eggerthellaceae","Anaerovoracaceae","Defluviitaleaceae","Butyricicoccaceae","Erysipelatoclostridiaceae","UCG_010","Christensenellaceae"],
        "range": ["#7FCBBA","#C7E9AF","#F3F2A9","#C8C4C9","#C893AE","#EF706A","#B98088","#72A1C8","#B9A281","#F1A94E","#B3CB4D","#C9D99B","#F5BCD7","#E7CFDF","#D3CCD6","#B98BBE","#B07CB5","#C4DCC2","#E2EEA0","#F9E44C"]},
      "legend": {"orient": "bottom", "title": "Family", "titleOrient": "left", "titleAnchor": "middle", "titleFontSize": 5, "titleFontWeight": "normal", "titleColor": "#222222", "titlePadding": 4, "labelFontSize": 3.3, "labelColor": "#222222", "labelLimit": 300, "labelOffset": 2.5, "columns": 3, "columnPadding": 3, "rowPadding": 1.4, "symbolType": "square", "symbolSize": 25, "symbolStrokeWidth": 0, "offset": 6,
       "values": ["Lactobacillaceae","Not_Assigned","Anaerovoracaceae","Erysipelotrichaceae","Ruminococcaceae","Defluviitaleaceae","Lachnospiraceae","Clostridiaceae","Butyricicoccaceae","Muribaculaceae","Monoglobaceae","Erysipelatoclostridiaceae","Rikenellaceae","Acholeplasmataceae","UCG_010","Peptostreptococcaceae","Eubacterium_coprostanoligenes_group","Christensenellaceae","Oscillospiraceae","Eggerthellaceae"]}}
    }},
   {"transform": [{"aggregate": [{"op": "count", "as": "n"}], "groupby": ["Cage"]}],
    "mark": {"type": "rect", "color": "#A5A5A7"},
    "encoding": {"y": {"datum": 1.05}, "y2": {"datum": 1.1}}},
   {"transform": [{"aggregate": [{"op": "count", "as": "n"}], "groupby": ["Cage"]}],
    "mark": {"type": "text", "fontWeight": "bold", "fontSize": 7, "color": "#111111"},
    "encoding": {"y": {"datum": 1.075}, "text": {"field": "Cage"}}}
  ]
 },
 "resolve": {"scale": {"x": "independent"}}
},
{
 "data": {"name": "B"},
 "title": {"text": "B", "anchor": "start", "fontSize": 25, "fontWeight": "bold", "offset": -22},
 "facet": {"column": {"field": "Cage", "type": "nominal", "title": "Eae", "header": {"labels": false, "labelPadding": 0, "titleFontSize": 17, "titleFontWeight": "bold", "titleColor": "#111111", "titlePadding": 2}}},
 "spacing": 2,
 "spec": {
  "width": 165, "height": 250,
  "layer": [
   {"transform": [{"calculate": "indexof(['Lactobacillaceae','Erysipelotrichaceae','Muribaculaceae','Lachnospiraceae','Akkermansiaceae','Peptostreptococcaceae','Rikenellaceae','Oscillospiraceae','Ruminococcaceae','Eubacterium_coprostanoligenes_group','Not_Assigned','Monoglobaceae','Eggerthellaceae','Acholeplasmataceae','Clostridiaceae','Bifidobacteriaceae','Defluviitaleaceae','Anaerovoracaceae','Erysipelatoclostridiaceae','UCG_010','Others'], datum.Family)", "as": "FamilyRank"}],
    "mark": {"type": "bar"},
    "encoding": {
     "x": {"field": "Mouse", "type": "nominal", "scale": {"paddingInner": 0.11, "paddingOuter": 0.155}, "axis": {"title": null, "labelAngle": 0, "labelFontSize": 6.5, "labelPadding": 2, "tickSize": 2, "gridWidth": 1, "bandPosition": 0.5}},
     "y": {"field": "Abundance", "type": "quantitative", "stack": "zero", "scale": {"domain": [-0.05, 1.1], "nice": false, "zero": false}, "axis": {"title": "Relative Abundance", "titleFontSize": 4.5, "titlePadding": 3, "labelFontSize": 3.4, "labelPadding": 1, "values": [0, 0.125, 0.25, 0.375, 0.5, 0.625, 0.75, 0.875, 1], "labelExpr": "datum.value % 0.25 == 0 ? format(datum.value, '.2f') : ''", "gridWidth": {"condition": {"test": "datum.value % 0.25 == 0", "value": 1}, "value": 0.5}, "tickSize": {"condition": {"test": "datum.value % 0.25 == 0", "value": 1.5}, "value": 0}}},
     "order": {"field": "FamilyRank", "type": "quantitative", "sort": "descending"},
     "color": {"field": "Family", "type": "nominal",
      "scale": {"domain": ["Lactobacillaceae","Erysipelotrichaceae","Muribaculaceae","Lachnospiraceae","Akkermansiaceae","Peptostreptococcaceae","Rikenellaceae","Oscillospiraceae","Ruminococcaceae","Eubacterium_coprostanoligenes_group","Not_Assigned","Monoglobaceae","Eggerthellaceae","Acholeplasmataceae","Clostridiaceae","Bifidobacteriaceae","Defluviitaleaceae","Anaerovoracaceae","Erysipelatoclostridiaceae","UCG_010","Others"],
        "range": ["#7FCBBA","#C4E7AC","#F5F5A3","#CCCAC3","#BE9BBC","#EC7872","#D27C80","#7D9CC2","#A5A48F","#F3A04A","#CABD4C","#A8D35A","#D8CCA8","#F1BFDA","#E8D3DE","#D2C6DC","#B46DBB","#B98EB6","#BCDDB4","#E4EE9E","#F9E44A"]},
      "legend": {"orient": "bottom", "title": "Family", "titleOrient": "left", "titleAnchor": "middle", "titleFontSize": 5, "titleFontWeight": "normal", "titleColor": "#222222", "titlePadding": 4, "labelFontSize": 3.3, "labelColor": "#222222", "labelLimit": 300, "labelOffset": 2.5, "columns": 3, "columnPadding": 3, "rowPadding": 1.4, "symbolType": "square", "symbolSize": 25, "symbolStrokeWidth": 0, "offset": 6,
       "values": ["Lactobacillaceae","Oscillospiraceae","Clostridiaceae","Erysipelotrichaceae","Ruminococcaceae","Bifidobacteriaceae","Muribaculaceae","Eubacterium_coprostanoligenes_group","Defluviitaleaceae","Lachnospiraceae","Not_Assigned","Anaerovoracaceae","Akkermansiaceae","Monoglobaceae","Erysipelatoclostridiaceae","Peptostreptococcaceae","Eggerthellaceae","UCG_010","Rikenellaceae","Acholeplasmataceae","Others"]}}
    }},
   {"transform": [{"aggregate": [{"op": "count", "as": "n"}], "groupby": ["Cage"]}],
    "mark": {"type": "rect", "color": "#A5A5A7"},
    "encoding": {"y": {"datum": 1.05}, "y2": {"datum": 1.1}}},
   {"transform": [{"aggregate": [{"op": "count", "as": "n"}], "groupby": ["Cage"]}],
    "mark": {"type": "text", "fontWeight": "bold", "fontSize": 7, "color": "#111111"},
    "encoding": {"y": {"datum": 1.075}, "text": {"field": "Cage"}}}
  ]
 },
 "resolve": {"scale": {"x": "independent"}}
}
], "spacing": 8, "resolve": {"scale": {"color": "independent"}, "legend": {"color": "independent"}}},
{"hconcat": [
{
 "data": {"name": "C"},
 "title": {"text": "C", "anchor": "start", "fontSize": 25, "fontWeight": "bold", "offset": -13},
 "facet": {"column": {"field": "Cage", "type": "nominal", "title": "EscC + Eae", "header": {"labels": false, "labelPadding": 0, "titleFontSize": 17, "titleFontWeight": "bold", "titleColor": "#111111", "titlePadding": -6}}},
 "spacing": 2,
 "spec": {
  "width": 165, "height": 247,
  "layer": [
   {"transform": [{"calculate": "indexof(['Lactobacillaceae','Erysipelotrichaceae','Muribaculaceae','Lachnospiraceae','Rikenellaceae','Peptostreptococcaceae','Oscillospiraceae','Not_Assigned','Bifidobacteriaceae','Monoglobaceae','Clostridiaceae','Acholeplasmataceae','Ruminococcaceae','Akkermansiaceae','Eubacterium_coprostanoligenes_group','Eggerthellaceae','Anaerovoracaceae','Defluviitaleaceae','Others','UCG_010'], datum.Family)", "as": "FamilyRank"}],
    "mark": {"type": "bar"},
    "encoding": {
     "x": {"field": "Mouse", "type": "nominal", "scale": {"paddingInner": 0.11, "paddingOuter": 0.155}, "axis": {"title": null, "labelAngle": 0, "labelFontSize": 6.5, "labelPadding": 2, "tickSize": 2, "gridWidth": 1, "bandPosition": 0.5}},
     "y": {"field": "Abundance", "type": "quantitative", "stack": "zero", "scale": {"domain": [-0.05, 1.1], "nice": false, "zero": false}, "axis": {"title": "Relative Abundance", "titleFontSize": 4.5, "titlePadding": 3, "labelFontSize": 3.4, "labelPadding": 1, "values": [0, 0.125, 0.25, 0.375, 0.5, 0.625, 0.75, 0.875, 1], "labelExpr": "datum.value % 0.25 == 0 ? format(datum.value, '.2f') : ''", "gridWidth": {"condition": {"test": "datum.value % 0.25 == 0", "value": 1}, "value": 0.5}, "tickSize": {"condition": {"test": "datum.value % 0.25 == 0", "value": 1.5}, "value": 0}}},
     "order": {"field": "FamilyRank", "type": "quantitative", "sort": "descending"},
     "color": {"field": "Family", "type": "nominal",
      "scale": {"domain": ["Lactobacillaceae","Erysipelotrichaceae","Muribaculaceae","Lachnospiraceae","Rikenellaceae","Peptostreptococcaceae","Oscillospiraceae","Not_Assigned","Bifidobacteriaceae","Monoglobaceae","Clostridiaceae","Acholeplasmataceae","Ruminococcaceae","Akkermansiaceae","Eubacterium_coprostanoligenes_group","Eggerthellaceae","Anaerovoracaceae","Defluviitaleaceae","Others","UCG_010"],
        "range": ["#7FCBBA","#C7E9AF","#F3F2A9","#C8C4C9","#C893AE","#EF706A","#B98088","#72A1C8","#B9A281","#F1A94E","#B3CB4D","#C9D99B","#F5BCD7","#E7CFDF","#D3CCD6","#B98BBE","#B07CB5","#C4DCC2","#E2EEA0","#F9E44C"]},
      "legend": {"orient": "bottom", "title": "Family", "titleOrient": "left", "titleAnchor": "middle", "titleFontSize": 5, "titleFontWeight": "normal", "titleColor": "#222222", "titlePadding": 4, "labelFontSize": 3.3, "labelColor": "#222222", "labelLimit": 300, "labelOffset": 2.5, "columns": 3, "columnPadding": 3, "rowPadding": 1.4, "symbolType": "square", "symbolSize": 25, "symbolStrokeWidth": 0, "offset": 12,
       "values": ["Lactobacillaceae","Not_Assigned","Eubacterium_coprostanoligenes_group","Erysipelotrichaceae","Bifidobacteriaceae","Eggerthellaceae","Muribaculaceae","Monoglobaceae","Anaerovoracaceae","Lachnospiraceae","Clostridiaceae","Defluviitaleaceae","Rikenellaceae","Acholeplasmataceae","Others","Peptostreptococcaceae","Ruminococcaceae","UCG_010","Oscillospiraceae","Akkermansiaceae"]}}
    }},
   {"transform": [{"aggregate": [{"op": "count", "as": "n"}], "groupby": ["Cage"]}],
    "mark": {"type": "rect", "color": "#A5A5A7"},
    "encoding": {"y": {"datum": 1.05}, "y2": {"datum": 1.1}}},
   {"transform": [{"aggregate": [{"op": "count", "as": "n"}], "groupby": ["Cage"]}],
    "mark": {"type": "text", "fontWeight": "bold", "fontSize": 7, "color": "#111111"},
    "encoding": {"y": {"datum": 1.075}, "text": {"field": "Cage"}}}
  ]
 },
 "resolve": {"scale": {"x": "independent"}}
},
{
 "data": {"name": "D"},
 "title": {"text": "D", "anchor": "start", "fontSize": 25, "fontWeight": "bold", "offset": -13},
 "facet": {"column": {"field": "Cage", "type": "nominal", "title": "Adjuvant", "header": {"labels": false, "labelPadding": 0, "titleFontSize": 17, "titleFontWeight": "bold", "titleColor": "#111111", "titlePadding": -6}}},
 "spacing": 2,
 "spec": {
  "width": 165, "height": 247,
  "layer": [
   {"transform": [{"calculate": "indexof(['Lactobacillaceae','Erysipelotrichaceae','Muribaculaceae','Lachnospiraceae','Rikenellaceae','Peptostreptococcaceae','Clostridiaceae','Oscillospiraceae','Akkermansiaceae','Bifidobacteriaceae','Not_Assigned','Ruminococcaceae','Acholeplasmataceae','Eggerthellaceae','Eubacterium_coprostanoligenes_group','Monoglobaceae','Anaerovoracaceae','Defluviitaleaceae','Butyricicoccaceae','Erysipelatoclostridiaceae','Staphylococcaceae','UCG_010','Christensenellaceae'], datum.Family)", "as": "FamilyRank"}],
    "mark": {"type": "bar"},
    "encoding": {
     "x": {"field": "Mouse", "type": "nominal", "scale": {"paddingInner": 0.11, "paddingOuter": 0.155}, "axis": {"title": null, "labelAngle": 0, "labelFontSize": 6.5, "labelPadding": 2, "tickSize": 2, "gridWidth": 1, "bandPosition": 0.5}},
     "y": {"field": "Abundance", "type": "quantitative", "stack": "zero", "scale": {"domain": [-0.05, 1.1], "nice": false, "zero": false}, "axis": {"title": "Relative Abundance", "titleFontSize": 4.5, "titlePadding": 3, "labelFontSize": 3.4, "labelPadding": 1, "values": [0, 0.125, 0.25, 0.375, 0.5, 0.625, 0.75, 0.875, 1], "labelExpr": "datum.value % 0.25 == 0 ? format(datum.value, '.2f') : ''", "gridWidth": {"condition": {"test": "datum.value % 0.25 == 0", "value": 1}, "value": 0.5}, "tickSize": {"condition": {"test": "datum.value % 0.25 == 0", "value": 1.5}, "value": 0}}},
     "order": {"field": "FamilyRank", "type": "quantitative", "sort": "descending"},
     "color": {"field": "Family", "type": "nominal",
      "scale": {"domain": ["Lactobacillaceae","Erysipelotrichaceae","Muribaculaceae","Lachnospiraceae","Rikenellaceae","Peptostreptococcaceae","Clostridiaceae","Oscillospiraceae","Akkermansiaceae","Bifidobacteriaceae","Not_Assigned","Ruminococcaceae","Acholeplasmataceae","Eggerthellaceae","Eubacterium_coprostanoligenes_group","Monoglobaceae","Anaerovoracaceae","Defluviitaleaceae","Butyricicoccaceae","Erysipelatoclostridiaceae","Staphylococcaceae","UCG_010","Christensenellaceae"],
        "range": ["#7FCBBA","#BFE6B0","#FFFF99","#D8D5BA","#B1A9D2","#D2848E","#F76D5F","#AF8590","#72A2CB","#B3A185","#F9A45A","#CDB84C","#A5D65C","#DCCFA9","#F7BDDA","#E6D3E0","#D0CDD0","#C190C2","#B164B4","#C3A5C4","#C4E3BB","#E3EE9F","#FCE74B"]},
      "legend": {"orient": "bottom", "title": "Family", "titleOrient": "left", "titleAnchor": "middle", "titleFontSize": 5, "titleFontWeight": "normal", "titleColor": "#222222", "titlePadding": 4, "labelFontSize": 3.3, "labelColor": "#222222", "labelLimit": 300, "labelOffset": 2.5, "columns": 3, "columnPadding": 3, "rowPadding": 1.4, "symbolType": "square", "symbolSize": 25, "symbolStrokeWidth": 0, "offset": 6,
       "values": ["Lactobacillaceae","Akkermansiaceae","Anaerovoracaceae","Erysipelotrichaceae","Bifidobacteriaceae","Defluviitaleaceae","Muribaculaceae","Not_Assigned","Butyricicoccaceae","Lachnospiraceae","Ruminococcaceae","Erysipelatoclostridiaceae","Rikenellaceae","Acholeplasmataceae","Staphylococcaceae","Peptostreptococcaceae","Eggerthellaceae","UCG_010","Clostridiaceae","Eubacterium_coprostanoligenes_group","Christensenellaceae","Oscillospiraceae","Monoglobaceae"]}}
    }},
   {"transform": [{"aggregate": [{"op": "count", "as": "n"}], "groupby": ["Cage"]}],
    "mark": {"type": "rect", "color": "#A5A5A7"},
    "encoding": {"y": {"datum": 1.05}, "y2": {"datum": 1.1}}},
   {"transform": [{"aggregate": [{"op": "count", "as": "n"}], "groupby": ["Cage"]}],
    "mark": {"type": "text", "fontWeight": "bold", "fontSize": 7, "color": "#111111"},
    "encoding": {"y": {"datum": 1.075}, "text": {"field": "Cage"}}}
  ]
 },
 "resolve": {"scale": {"x": "independent"}}
}
], "spacing": 8, "resolve": {"scale": {"color": "independent"}, "legend": {"color": "independent"}}}
],
"spacing": 10,
"resolve": {"scale": {"color": "independent"}, "legend": {"color": "independent"}}
}
